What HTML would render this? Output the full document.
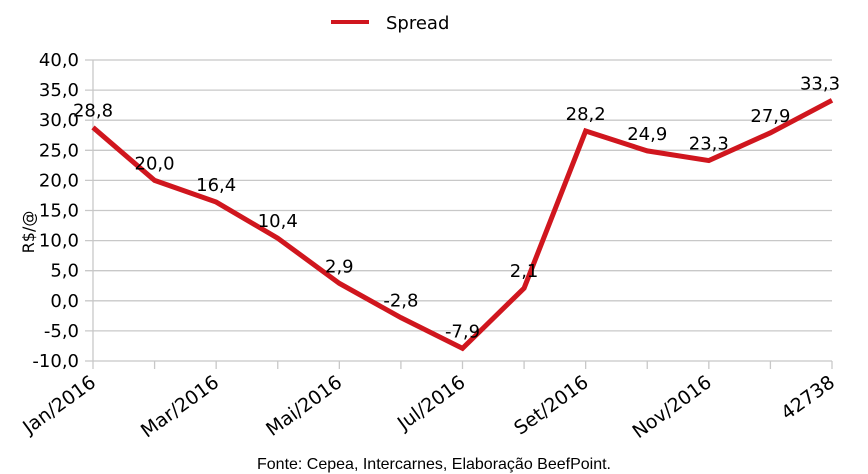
<!DOCTYPE html>
<html><head><meta charset="utf-8"><style>
body{margin:0;background:#fff;}
svg{display:block;font-family:"DejaVu Sans","Liberation Sans",sans-serif;}
</style></head><body>
<svg id="c" width="868" height="474" viewBox="0 0 868 474">
<g id="grid"></g><g id="axes"></g><g id="series"></g><g id="labels"></g>
<g>
<line x1="331" y1="22" x2="369" y2="22" stroke="#d0161e" stroke-width="4"/>
<text x="386" y="29" font-size="18" fill="#000">Spread</text>
</g>
<text transform="translate(34,232) rotate(-90)" text-anchor="middle" font-size="16">R$/@</text>
<text x="434" y="469" text-anchor="middle" font-family="Liberation Sans Narrow,Liberation Sans,sans-serif" font-size="16">Fonte: Cepea, Intercarnes, Elaboração BeefPoint.</text>
</svg>
<script>
const categories=["Jan/2016","Fev/2016","Mar/2016","Abr/2016","Mai/2016","Jun/2016","Jul/2016","Ago/2016","Set/2016","Out/2016","Nov/2016","Dez/2016","42738"];
const values=[28.8,20.0,16.4,10.4,2.9,-2.8,-7.9,2.1,28.2,24.9,23.3,27.9,33.3];
const yTicks=[-10,-5,0,5,10,15,20,25,30,35,40];
const xLabelIdx=[0,2,4,6,8,10,12];
const L=93,R=832,T=60,B=361,yMin=-10,yMax=40;
const ns="http://www.w3.org/2000/svg";
const X=i=>L+i*(R-L)/(categories.length-1);
const Y=v=>B-(v-yMin)/(yMax-yMin)*(B-T);
const fmt=v=>v.toFixed(1).replace(".",",");
function mk(tag,attrs,parent){const e=document.createElementNS(ns,tag);for(const k in attrs)e.setAttribute(k,attrs[k]);document.getElementById(parent).appendChild(e);return e;}
yTicks.forEach(t=>{
 const g=mk("line",{x1:85,x2:R,y1:Y(t),y2:Y(t),stroke:"#c8c8c8","stroke-width":1.3},"grid");
 
 
 const tx=mk("text",{x:79,y:Y(t)+6,"text-anchor":"end","font-size":18},"axes");
 tx.textContent=fmt(t);
 
 
});
const ax=mk("line",{x1:L,x2:L,y1:T,y2:B,stroke:"#c8c8c8","stroke-width":1.3},"grid");


categories.forEach((c,i)=>{
 const t=mk("line",{x1:X(i),x2:X(i),y1:B,y2:B+8,stroke:"#c8c8c8","stroke-width":1.3},"grid");
 
 
});
xLabelIdx.forEach(i=>{
 const t=mk("text",{transform:`translate(${X(i)+4},${B+24}) rotate(-36)`,"text-anchor":"end","font-size":19},"axes");
 t.textContent=categories[i];
 
 
});
const p=mk("polyline",{points:values.map((v,i)=>X(i)+","+Y(v)).join(" "),fill:"none",stroke:"#d0161e","stroke-width":5,"stroke-linejoin":"miter"},"series");


values.forEach((v,i)=>{
 let x=X(i); if(i===values.length-1)x=X(i)-12;
 const t=mk("text",{x:x,y:Y(v)-11,"text-anchor":"middle","font-size":18},"labels");
 t.textContent=fmt(v);
 
 
});
</script>
</body></html>
